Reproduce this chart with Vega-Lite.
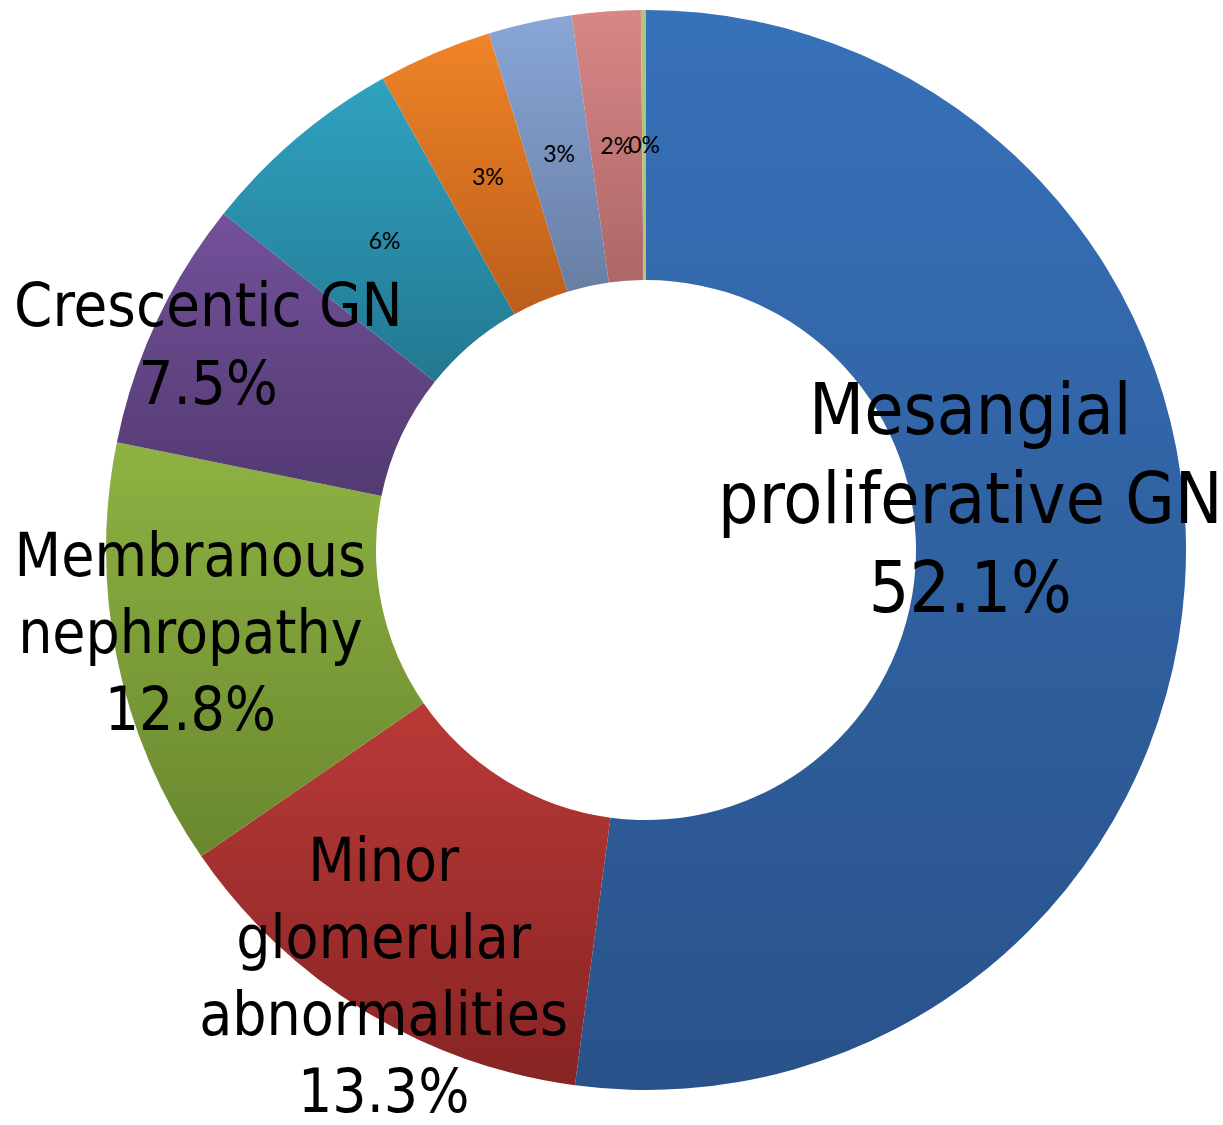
{
  "$schema": "https://vega.github.io/schema/vega-lite/v6.json",
  "width": 1154,
  "height": 1100,
  "padding": {"left": 69, "top": 0, "right": 0, "bottom": 25},
  "autosize": {"type": "none"},
  "background": "white",
  "view": {"stroke": null},
  "data": {
    "values": [
      {"idx": 1, "name": "Mesangial proliferative GN", "value": 52.1, "label": "Mesangial\nproliferative GN\n52.1%"},
      {"idx": 2, "name": "Minor glomerular abnormalities", "value": 13.3, "label": "Minor\nglomerular\nabnormalities\n13.3%"},
      {"idx": 3, "name": "Membranous nephropathy", "value": 12.8, "label": "Membranous\nnephropathy\n12.8%"},
      {"idx": 4, "name": "Crescentic GN", "value": 7.5, "label": "Crescentic GN\n7.5%"},
      {"idx": 5, "name": "Other 1", "value": 6.2, "label": "6%"},
      {"idx": 6, "name": "Other 2", "value": 3.4, "label": "3%"},
      {"idx": 7, "name": "Other 3", "value": 2.5, "label": "3%"},
      {"idx": 8, "name": "Other 4", "value": 2.05, "label": "2%"},
      {"idx": 9, "name": "Other 5", "value": 0.15, "label": "0%"}
    ]
  },
  "layer": [
    {
      "transform": [{"stack": "value", "groupby": [], "sort": [{"field": "idx", "order": "ascending"}], "as": ["v0", "v1"]}, {"filter": "datum.idx === 1"}],
      "mark": {"type": "arc", "outerRadius": 540, "innerRadius": 270, "color": {"gradient": "linear", "x1": 0, "y1": 0, "x2": 0, "y2": 1, "stops": [{"offset": 0, "color": "#3771b9"}, {"offset": 1, "color": "#29528a"}]}},
      "encoding": {"theta": {"field": "v0", "type": "quantitative", "scale": {"domain": [0, 100]}}, "theta2": {"field": "v1"}}
    },
    {
      "transform": [{"stack": "value", "groupby": [], "sort": [{"field": "idx", "order": "ascending"}], "as": ["v0", "v1"]}, {"filter": "datum.idx === 2"}],
      "mark": {"type": "arc", "outerRadius": 540, "innerRadius": 270, "color": {"gradient": "linear", "x1": 0, "y1": 0, "x2": 0, "y2": 1, "stops": [{"offset": 0, "color": "#b93a37"}, {"offset": 1, "color": "#882424"}]}},
      "encoding": {"theta": {"field": "v0", "type": "quantitative", "scale": {"domain": [0, 100]}}, "theta2": {"field": "v1"}}
    },
    {
      "transform": [{"stack": "value", "groupby": [], "sort": [{"field": "idx", "order": "ascending"}], "as": ["v0", "v1"]}, {"filter": "datum.idx === 3"}],
      "mark": {"type": "arc", "outerRadius": 540, "innerRadius": 270, "color": {"gradient": "linear", "x1": 0, "y1": 0, "x2": 0, "y2": 1, "stops": [{"offset": 0, "color": "#8eb242"}, {"offset": 1, "color": "#69882f"}]}},
      "encoding": {"theta": {"field": "v0", "type": "quantitative", "scale": {"domain": [0, 100]}}, "theta2": {"field": "v1"}}
    },
    {
      "transform": [{"stack": "value", "groupby": [], "sort": [{"field": "idx", "order": "ascending"}], "as": ["v0", "v1"]}, {"filter": "datum.idx === 4"}],
      "mark": {"type": "arc", "outerRadius": 540, "innerRadius": 270, "color": {"gradient": "linear", "x1": 0, "y1": 0, "x2": 0, "y2": 1, "stops": [{"offset": 0, "color": "#73519a"}, {"offset": 1, "color": "#533a72"}]}},
      "encoding": {"theta": {"field": "v0", "type": "quantitative", "scale": {"domain": [0, 100]}}, "theta2": {"field": "v1"}}
    },
    {
      "transform": [{"stack": "value", "groupby": [], "sort": [{"field": "idx", "order": "ascending"}], "as": ["v0", "v1"]}, {"filter": "datum.idx === 5"}],
      "mark": {"type": "arc", "outerRadius": 540, "innerRadius": 270, "color": {"gradient": "linear", "x1": 0, "y1": 0, "x2": 0, "y2": 1, "stops": [{"offset": 0, "color": "#30a2c1"}, {"offset": 1, "color": "#237890"}]}},
      "encoding": {"theta": {"field": "v0", "type": "quantitative", "scale": {"domain": [0, 100]}}, "theta2": {"field": "v1"}}
    },
    {
      "transform": [{"stack": "value", "groupby": [], "sort": [{"field": "idx", "order": "ascending"}], "as": ["v0", "v1"]}, {"filter": "datum.idx === 6"}],
      "mark": {"type": "arc", "outerRadius": 540, "innerRadius": 270, "color": {"gradient": "linear", "x1": 0, "y1": 0, "x2": 0, "y2": 1, "stops": [{"offset": 0, "color": "#f08427"}, {"offset": 1, "color": "#bb5e1b"}]}},
      "encoding": {"theta": {"field": "v0", "type": "quantitative", "scale": {"domain": [0, 100]}}, "theta2": {"field": "v1"}}
    },
    {
      "transform": [{"stack": "value", "groupby": [], "sort": [{"field": "idx", "order": "ascending"}], "as": ["v0", "v1"]}, {"filter": "datum.idx === 7"}],
      "mark": {"type": "arc", "outerRadius": 540, "innerRadius": 270, "color": {"gradient": "linear", "x1": 0, "y1": 0, "x2": 0, "y2": 1, "stops": [{"offset": 0, "color": "#89a6d6"}, {"offset": 1, "color": "#687ea4"}]}},
      "encoding": {"theta": {"field": "v0", "type": "quantitative", "scale": {"domain": [0, 100]}}, "theta2": {"field": "v1"}}
    },
    {
      "transform": [{"stack": "value", "groupby": [], "sort": [{"field": "idx", "order": "ascending"}], "as": ["v0", "v1"]}, {"filter": "datum.idx === 8"}],
      "mark": {"type": "arc", "outerRadius": 540, "innerRadius": 270, "color": {"gradient": "linear", "x1": 0, "y1": 0, "x2": 0, "y2": 1, "stops": [{"offset": 0, "color": "#d98686"}, {"offset": 1, "color": "#ac6767"}]}},
      "encoding": {"theta": {"field": "v0", "type": "quantitative", "scale": {"domain": [0, 100]}}, "theta2": {"field": "v1"}}
    },
    {
      "transform": [{"stack": "value", "groupby": [], "sort": [{"field": "idx", "order": "ascending"}], "as": ["v0", "v1"]}, {"filter": "datum.idx === 9"}],
      "mark": {"type": "arc", "outerRadius": 540, "innerRadius": 270, "color": "#aec67c"},
      "encoding": {"theta": {"field": "v0", "type": "quantitative", "scale": {"domain": [0, 100]}}, "theta2": {"field": "v1"}}
    },
    {
      "mark": {"type": "text", "radius": 404, "font": "Lato, Open Sans, sans-serif", "fontSize": 23, "color": "black", "align": "center", "baseline": "middle"},
      "encoding": {
        "theta": {"field": "value", "type": "quantitative", "stack": true, "scale": {"domain": [0, 100]}},
        "order": {"field": "idx", "type": "quantitative"},
        "detail": {"field": "name"},
        "text": {"condition": {"test": "datum.idx >= 5", "field": "label"}, "value": ""}
      }
    },
    {
      "mark": {"type": "text", "radius": 325, "dy": -158, "font": "DejaVu Sans Condensed, sans-serif", "fontSize": 71, "lineHeight": 89, "lineBreak": "\n", "color": "black", "align": "center", "baseline": "middle"},
      "encoding": {
        "theta": {"field": "value", "type": "quantitative", "stack": true, "scale": {"domain": [0, 100]}},
        "order": {"field": "idx", "type": "quantitative"},
        "detail": {"field": "name"},
        "text": {"condition": {"test": "datum.idx === 1", "field": "label"}, "value": ""}
      }
    },
    {
      "mark": {"type": "text", "radius": 502, "dy": -115, "font": "DejaVu Sans Condensed, sans-serif", "fontSize": 60, "lineHeight": 77, "lineBreak": "\n", "color": "black", "align": "center", "baseline": "middle"},
      "encoding": {
        "theta": {"field": "value", "type": "quantitative", "stack": true, "scale": {"domain": [0, 100]}},
        "order": {"field": "idx", "type": "quantitative"},
        "detail": {"field": "name"},
        "text": {"condition": {"test": "datum.idx === 2", "field": "label"}, "value": ""}
      }
    },
    {
      "mark": {"type": "text", "radius": 465, "dy": -85, "font": "DejaVu Sans Condensed, sans-serif", "fontSize": 60, "lineHeight": 77, "lineBreak": "\n", "color": "black", "align": "center", "baseline": "middle"},
      "encoding": {
        "theta": {"field": "value", "type": "quantitative", "stack": true, "scale": {"domain": [0, 100]}},
        "order": {"field": "idx", "type": "quantitative"},
        "detail": {"field": "name"},
        "text": {"condition": {"test": "datum.idx === 3", "field": "label"}, "value": ""}
      }
    },
    {
      "mark": {"type": "text", "radius": 483, "dy": -38, "font": "DejaVu Sans Condensed, sans-serif", "fontSize": 61, "lineHeight": 78, "lineBreak": "\n", "color": "black", "align": "center", "baseline": "middle"},
      "encoding": {
        "theta": {"field": "value", "type": "quantitative", "stack": true, "scale": {"domain": [0, 100]}},
        "order": {"field": "idx", "type": "quantitative"},
        "detail": {"field": "name"},
        "text": {"condition": {"test": "datum.idx === 4", "field": "label"}, "value": ""}
      }
    }
  ]
}
